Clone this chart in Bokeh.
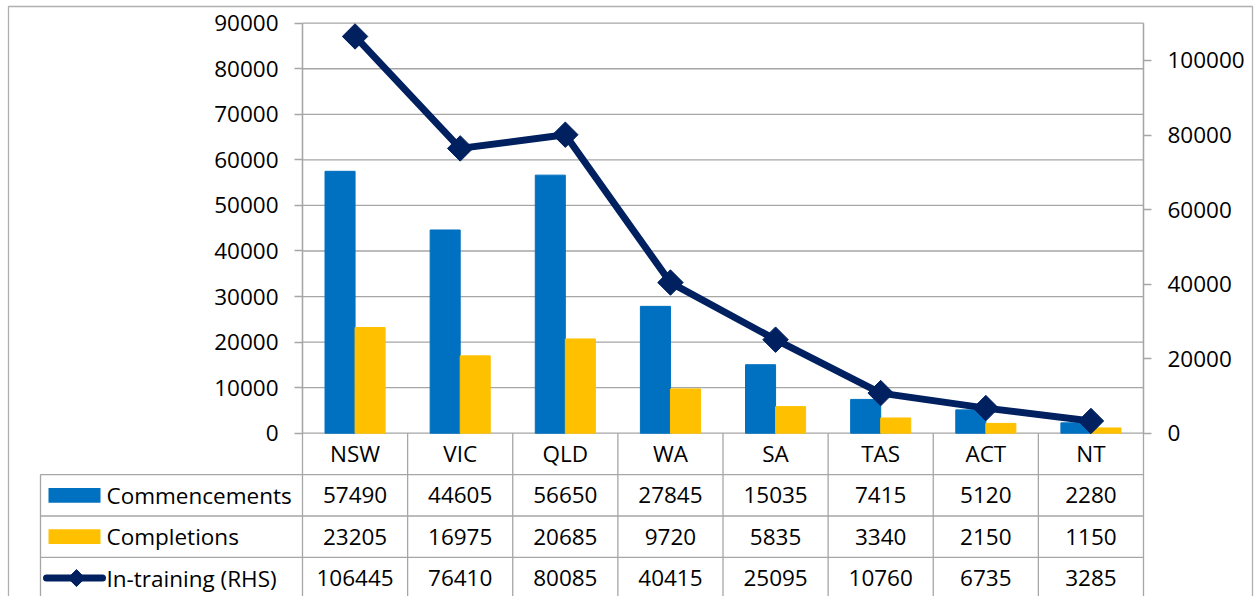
import numpy as np
from bokeh.plotting import figure
from bokeh.models import Range1d, LinearAxis, FixedTicker, NumeralTickFormatter
from bokeh.core.properties import value
from bokeh.embed import file_html
from bokeh.resources import INLINE

# ---------------- data ----------------
categories = ["NSW", "VIC", "QLD", "WA", "SA", "TAS", "ACT", "NT"]
commencements = [57490, 44605, 56650, 27845, 15035, 7415, 5120, 2280]
completions = [23205, 16975, 20685, 9720, 5835, 3340, 2150, 1150]
in_training = [106445, 76410, 80085, 40415, 25095, 10760, 6735, 3285]
series_names = ["Commencements", "Completions", "In-training (RHS)"]
left_ticks = list(range(0, 90001, 10000))
right_ticks = list(range(0, 100001, 20000))

# ---------------- layout (canvas pixels) ----------------
W, H = 1256, 596
PX0, PX1 = 302.0, 1143.0      # plot area left / right
PY0, PY1 = 432.7, 22.7        # zero line / top (90000)
ROW_H = 41.4
LEFT_MAX, RIGHT_MAX = 90000, 110000
N = len(categories)

kx = N / (PX1 - PX0)
ky = LEFT_MAX / (PY0 - PY1)
ky2 = RIGHT_MAX / (PY0 - PY1)

def dx(px):
    return (px - PX0) * kx

def dy(py):
    return (PY0 - py) * ky

BLUE, YELLOW, NAVY = "#0070C0", "#FFC000", "#002060"
GRAY = "#A6A6A6"
FONT = value("Open Sans")
FSIZE = "22.5px"

p = figure(width=W, height=H,
           x_range=Range1d(dx(0), dx(W)), y_range=Range1d(dy(H), dy(0)),
           output_backend="svg", toolbar_location=None, min_border=0,
           x_axis_type=None, y_axis_type=None)
p.extra_y_ranges = {"y2": Range1d(-(H - PY0) * ky2, PY0 * ky2)}
p.outline_line_color = None
p.background_fill_color = "white"
p.border_fill_color = "white"

# outer chart border
p.quad(left=[dx(8)], right=[dx(1252)], top=[dy(6)], bottom=[dy(H + 10)],
       fill_color=None, line_color="#B0B0B0", line_width=1.3)

# ---------------- structural lines ----------------
ybot = dy(H + 5)
tab_left = dx(40)
row_bounds = [dy(PY0 + j * ROW_H) for j in range(5)]
x0s, y0s, x1s, y1s = [], [], [], []
for t in left_ticks:
    x0s.append(0); x1s.append(N); y0s.append(t); y1s.append(t)
for xv in (0, N):
    x0s.append(xv); x1s.append(xv); y0s.append(LEFT_MAX); y1s.append(ybot)
for i in range(1, N):
    x0s.append(i); x1s.append(i); y0s.append(0); y1s.append(ybot)
x0s.append(tab_left); x1s.append(tab_left); y0s.append(row_bounds[1]); y1s.append(ybot)
for j in range(1, 5):
    x0s.append(tab_left); x1s.append(N); y0s.append(row_bounds[j]); y1s.append(row_bounds[j])
p.segment(x0s, y0s, x1s, y1s, line_color=GRAY, line_width=1.3)

# ---------------- bars ----------------
xc = np.arange(N) + 0.5
bw = 1 / 3.5
p.vbar(x=xc - bw / 2, top=commencements, width=bw, color=BLUE)
p.vbar(x=xc + bw / 2, top=completions, width=bw, color=YELLOW)

# ---------------- line (RHS) ----------------
p.line(xc, in_training, y_range_name="y2", line_color=NAVY, line_width=7, line_join="round")
p.scatter(xc, in_training, y_range_name="y2", marker="square", angle=np.pi / 4,
          size=18, fill_color=NAVY, line_color=NAVY)

# ---------------- axes ----------------
def style_axis(ax):
    ax.axis_line_color = GRAY
    ax.axis_line_width = 1.3
    ax.major_tick_line_color = GRAY
    ax.major_tick_line_width = 1.3
    ax.major_tick_out = 8
    ax.major_tick_in = 0
    ax.minor_tick_out = 0
    ax.minor_tick_in = 0
    ax.major_label_text_font = "Open Sans"
    ax.major_label_text_font_size = FSIZE
    ax.major_label_text_color = "#000000"
    ax.major_label_standoff = 16
    ax.formatter = NumeralTickFormatter(format="0")

yl = LinearAxis(fixed_location=0, bounds=(0, LEFT_MAX), ticker=FixedTicker(ticks=left_ticks))
style_axis(yl)
p.add_layout(yl, "left")
yr = LinearAxis(y_range_name="y2", fixed_location=N, bounds=(0, RIGHT_MAX),
                ticker=FixedTicker(ticks=right_ticks))
style_axis(yr)
p.add_layout(yr, "right")

# ---------------- data table ----------------
row_centers = [(row_bounds[j] + row_bounds[j + 1]) / 2 for j in range(4)]
p.text(x=list(xc), y=[row_centers[0]] * N, text=categories, text_align="center",
       text_baseline="middle", text_font=FONT, text_font_size=FSIZE, text_color="#000000")
for r, vals in enumerate([commencements, completions, in_training]):
    p.text(x=list(xc), y=[row_centers[r + 1]] * N, text=[str(v) for v in vals],
           text_align="center", text_baseline="middle", text_font=FONT,
           text_font_size=FSIZE, text_color="#000000")
p.text(x=[dx(106)] * 3, y=row_centers[1:], text=series_names, text_align="left",
       text_baseline="middle", text_font=FONT, text_font_size=FSIZE, text_color="#000000")

# legend keys
kh = 7.4 * ky
p.quad(left=[dx(48)] * 2, right=[dx(100)] * 2,
       bottom=[row_centers[1] - kh, row_centers[2] - kh],
       top=[row_centers[1] + kh, row_centers[2] + kh],
       fill_color=[BLUE, YELLOW], line_color=None)
p.line([dx(46), dx(102)], [row_centers[3]] * 2, line_color=NAVY, line_width=7, line_cap="round")
p.scatter([dx(76)], [row_centers[3]], marker="square", angle=np.pi / 4, size=12,
          fill_color=NAVY, line_color=NAVY)

open("out.html", "w").write(file_html(p, INLINE))
